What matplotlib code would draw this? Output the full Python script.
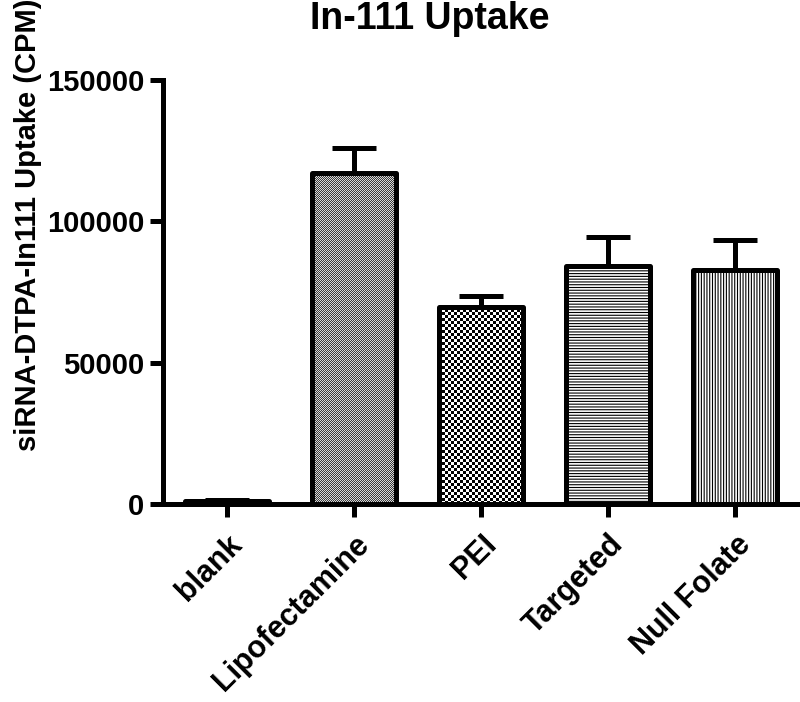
import numpy as np
import matplotlib
matplotlib.use('Agg')
import matplotlib.pyplot as plt
from matplotlib.colors import ListedColormap

categories = ['blank', 'Lipofectamine', 'PEI', 'Targeted', 'Null Folate']
means = [1000, 117000, 69700, 84200, 82800]
errors = [300, 8800, 3900, 10100, 10600]
yticks = [0, 50000, 100000, 150000]
title = 'In-111 Uptake'
ylabel = 'siRNA-DTPA-In111 Uptake (CPM)'

plt.rcParams['font.family'] = ['Liberation Sans', 'DejaVu Sans']
plt.rcParams['font.weight'] = 'bold'
plt.rcParams['hatch.linewidth'] = 0.8
plt.rcParams['hatch.color'] = 'black'

W, H = 800, 702
fig = plt.figure(figsize=(W / 100, H / 100), dpi=100)
ax = fig.add_axes([163 / W, 1 - 504 / H, (799 - 163) / W, (504 - 80) / H])

x = np.arange(len(categories))
LW = 3.6
faces = ['white', 'none', 'none', 'white', 'white']
bars = ax.bar(x, means, width=0.66, color=faces, edgecolor='black',
              linewidth=LW, zorder=3)
for b in bars:
    b.set_joinstyle('round')
bars[3].set_hatch('------')
bars[4].set_hatch('||||||')

ax.set_xlim(-0.5, 4.5)
ax.set_ylim(0, 150000)


def texture(bar, cell_px, c1, c2):
    x0, y0 = bar.get_x(), bar.get_y()
    w, h = bar.get_width(), bar.get_height()
    p0 = ax.transData.transform((x0, y0))
    p1 = ax.transData.transform((x0 + w, y0 + h))
    nx = max(1, int(round((p1[0] - p0[0]) / cell_px)))
    ny = max(1, int(round((p1[1] - p0[1]) / cell_px)))
    pat = np.add.outer(np.arange(ny), np.arange(nx)) % 2
    im = ax.imshow(pat, extent=(x0, x0 + w, y0, y0 + h),
                   cmap=ListedColormap([c1, c2]), interpolation='nearest',
                   aspect='auto', origin='lower', zorder=2)
    im.set_clip_path(bar)


texture(bars[1], 1.0, '#3a3a3a', '#d8d8d8')
texture(bars[2], 3.0, '#000000', '#ffffff')

ax.errorbar(x, means, yerr=[np.zeros(len(errors)), errors], fmt='none',
            ecolor='black', elinewidth=LW, capsize=16, capthick=LW, zorder=2.5)

ax.set_xlim(-0.5, 4.5)
ax.set_ylim(0, 150000)

for s in ['top', 'right']:
    ax.spines[s].set_visible(False)
for s in ['left', 'bottom']:
    ax.spines[s].set_linewidth(LW)

ax.set_yticks(yticks)
ax.set_yticklabels([str(v) for v in yticks])
ax.set_xticks(x)
ax.set_xticklabels(categories, rotation=45, ha='right', rotation_mode='anchor')
ax.tick_params(direction='out', length=9.4, width=LW, labelsize=21, pad=4)
ax.tick_params(axis='x', pad=9, labelsize=22)

fig.text(430 / W, 1 - 29 / H, title, ha='center', va='baseline',
         fontsize=27, fontweight='bold')
fig.text(28 / W, 1 - 225 / H, ylabel, rotation=90, ha='center', va='center',
         fontsize=21, fontweight='bold')

fig.savefig('out.png', dpi=100)
